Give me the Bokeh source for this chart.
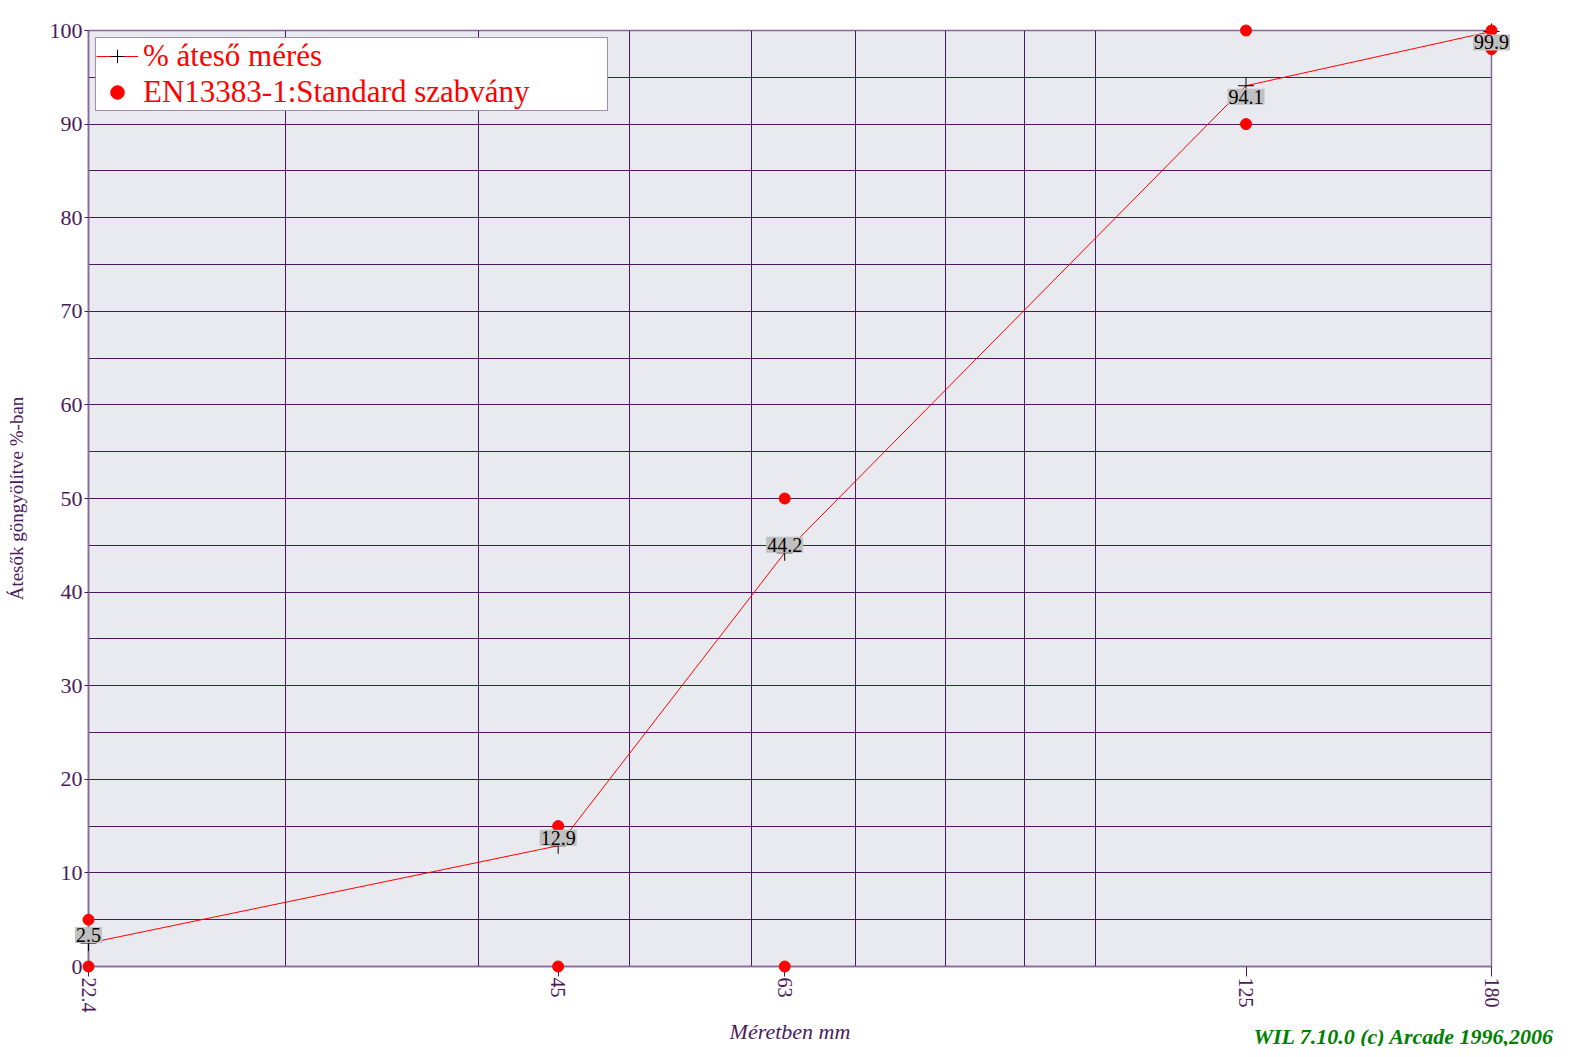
from bokeh.plotting import figure
from bokeh.models import (ColumnDataSource, FixedTicker, Legend, LegendItem,
                          Range1d, LinearScale)
from bokeh.embed import file_html
from bokeh.resources import INLINE
from bokeh.core.properties import value

# ---- data ----
sieve_mm = [22.4, 45, 63, 125, 180]
passing_pct = [2.5, 12.9, 44.2, 94.1, 99.9]
std_lower = [0, 0, 0, 90, 98]
std_upper = [5, 15, 50, 100, 100]
x_tick_labels = ["22.4", "45", "63", "125", "180"]
y_ticks = list(range(0, 101, 10))
y_grid = list(range(0, 101, 5))
x_grid = [30, 40, 50, 60, 70, 80, 90, 100, 200]
credit_text = "WIL 7.10.0 (c) Arcade 1996,2006"

FONT = "Liberation Serif"
PURPLE = "#4B1A5C"
AXC = "#8A6A9A"
FW, FH = 1403, 936

p = figure(output_backend="svg", toolbar_location=None,
           x_axis_type="log",
           frame_width=FW, frame_height=FH,
           min_border_left=88, min_border_right=68,
           min_border_top=30, min_border_bottom=75,
           x_range=Range1d(22.4, 180), y_range=Range1d(0, 100),
           background_fill_color="#E8EAF0", border_fill_color="white",
           outline_line_color=AXC, outline_line_width=1.5)
# pixel-based helper ranges for free text placed outside the frame
p.extra_x_ranges = {"px": Range1d(0, FW)}
p.extra_y_ranges = {"px": Range1d(0, FH)}
p.extra_x_scales = {"px": LinearScale()}
p.extra_y_scales = {"px": LinearScale()}

# grids
p.xgrid.ticker = FixedTicker(ticks=x_grid)
p.ygrid.ticker = FixedTicker(ticks=y_grid)
for g in (p.xgrid, p.ygrid):
    g.grid_line_color = PURPLE
    g.grid_line_width = 1
    g.grid_line_alpha = 1

# axes
xa = p.xaxis[0]
xa.ticker = FixedTicker(ticks=sieve_mm)
xa.major_label_overrides = {v: lab for v, lab in zip(sieve_mm, x_tick_labels)}
xa.major_label_orientation = "vertical"
xa.axis_label = "Méretben mm"
ya = p.yaxis[0]
ya.ticker = FixedTicker(ticks=y_ticks)
ya.axis_label = "Átesők göngyölítve %-ban"
for ax in (xa, ya):
    ax.axis_line_color = AXC
    ax.axis_line_width = 1.5
    ax.major_tick_line_color = PURPLE
    ax.major_tick_in = 0
    ax.minor_tick_line_color = None
    ax.major_label_text_font = FONT
    ax.major_label_text_color = PURPLE
    ax.axis_label_text_font = FONT
    ax.axis_label_text_color = PURPLE
xa.major_tick_out = 10
xa.major_label_standoff = 1
xa.major_label_text_font_size = "20px"
xa.axis_label_text_font_size = "22px"
xa.axis_label_text_font_style = "italic"
xa.axis_label_standoff = 3
ya.major_tick_out = 4
ya.major_label_standoff = 2
ya.major_label_text_font_size = "22px"
ya.axis_label_text_font_size = "19px"
ya.axis_label_text_font_style = "normal"
ya.axis_label_standoff = 20

src = ColumnDataSource(dict(
    x=sieve_mm, y=passing_pct,
    lab=[f"{v:.1f}" for v in passing_pct],
    yoff=[11 if v > 90 else -8 for v in passing_pct],
))
std = ColumnDataSource(dict(x=sieve_mm * 2, y=std_lower + std_upper))

ln = p.line("x", "y", source=src, line_color="red", line_width=1)
cr = p.scatter("x", "y", source=src, marker="cross", size=16, line_color="black",
               line_width=1, level="overlay")
dots = p.scatter("x", "y", source=std, marker="circle", size=11,
                 fill_color="red", line_color="red", level="overlay")

p.text("x", "y", text="lab", source=src, y_offset="yoff",
       text_align="center", text_baseline="middle",
       text_font=value(FONT), text_font_size="20px", text_color="black",
       background_fill_color="#C0C0C0", background_fill_alpha=1, padding=1,
       level="overlay")

legend = Legend(items=[LegendItem(label="% áteső mérés", renderers=[ln, cr]),
                       LegendItem(label="EN13383-1:Standard szabvány", renderers=[dots])],
                location="top_left", margin=7, padding=0, spacing=0,
                glyph_width=42, glyph_height=34, label_height=34, label_width=464,
                label_standoff=5,
                label_text_font=FONT, label_text_font_size="31px",
                label_text_color="red",
                border_line_color=PURPLE, border_line_width=1,
                background_fill_color="white", background_fill_alpha=1)
p.add_layout(legend)

cred = ColumnDataSource(dict(x=[1165], y=[-70], t=[credit_text]))
p.text("x", "y", text="t", source=cred, x_range_name="px", y_range_name="px",
       text_font=value(FONT), text_font_size="22px", text_font_style="bold italic",
       text_color="#008000", text_baseline="alphabetic", text_align="left",
       level="overlay")

open("out.html", "w").write(file_html(p, INLINE))
